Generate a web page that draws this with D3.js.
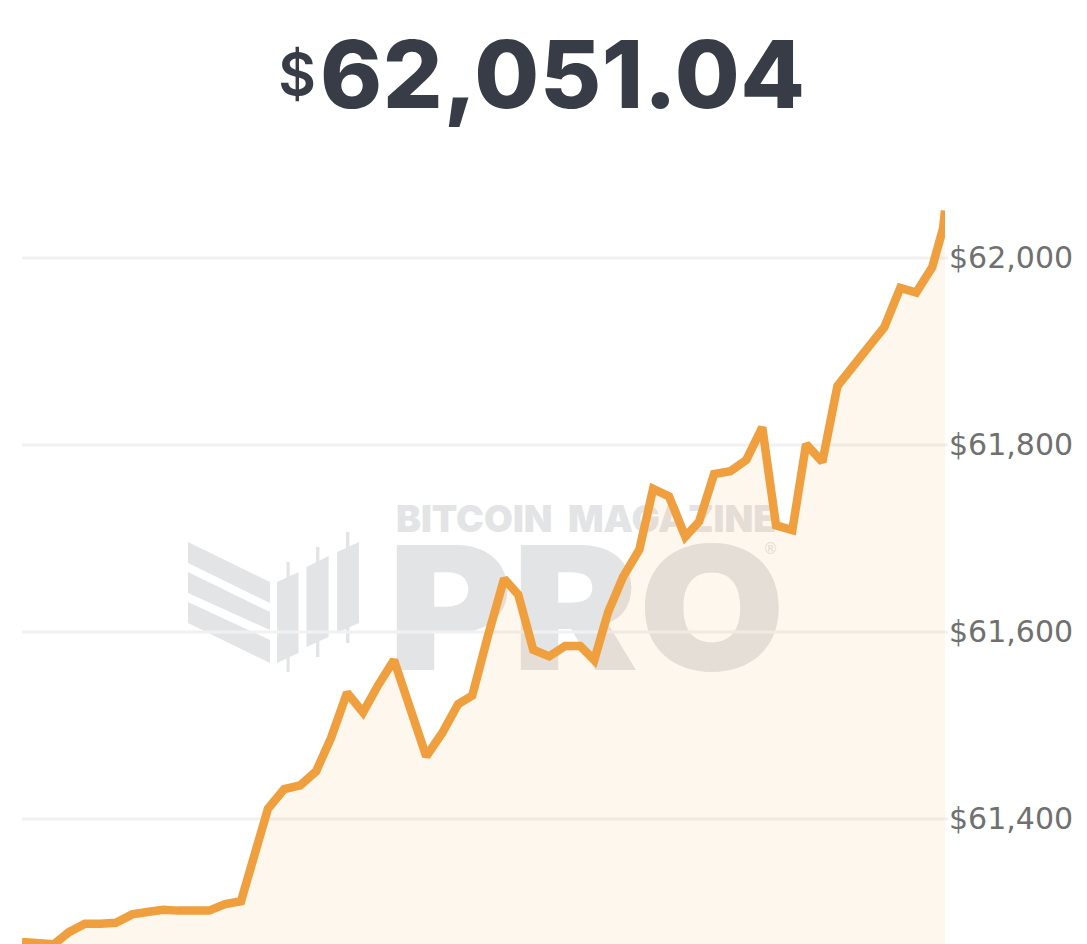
<!DOCTYPE html>
<html>
<head>
<meta charset="utf-8">
<script src="https://cdn.jsdelivr.net/npm/d3@7"></script>
<style>
html,body{margin:0;padding:0;background:#fff;overflow:hidden}
svg{display:block}
</style>
</head>
<body>
<svg id="chart" width="1087" height="944"></svg>
<script>
const minutes = [0,10.2,15,20.1,24.9,30,35.2,40,45.1,49.9,55,59.8,64.9,70,78.6,83.8,88.9,94,98.8,103.9,109,113.8,118.9,124,129.2,134.3,139.4,143.9,149,154.1,158.6,163.4,168.5,173.6,178.4,182.9,187.3,192.1,197.3,201.7,206.8,212,216.4,221.2,226.4,231.5,236.6,241,246.2,250.6,255.8,260.6,265.7,270.8,275.6,280.7,285.8,290.9,294.4,295];
const prices = [61268.5,61266,61279,61288,61288,61289,61298,61300.5,61303,61302,61302,61302,61309,61312,61411,61432,61436,61451,61487,61535,61514,61543,61570,61519,61467,61492,61523,61532,61597,61657,61640,61581,61574,61585,61585,61570,61621,61659,61688,61753,61745,61702,61718,61769,61772,61784,61819,61714,61709,61801,61782,61863,61884.5,61906,61926,61968,61963,61990,62032,62051.04];
const yTicks = [61400,61600,61800,62000];
const currentPrice = "62,051.04";
const currency = "$";
const brandLine = "BITCOIN MAGAZINE";
const brandWord = "PRO";

const svg = d3.select("#chart");
const plotLeft = 22, plotRight = 945, plotTop = 210.3, plotBottom = 944;
const x = d3.scaleLinear().domain([0,295]).range([plotLeft,plotRight]);
const y = d3.scaleLinear().domain([61266.3,62051.04]).range([plotBottom,plotTop]);
const points = minutes.map((m,i)=>({m,p:prices[i]}));

// Headline
const head = svg.append("text").attr("x",542).attr("y",108).attr("text-anchor","middle")
  .attr("fill","#373c46").attr("font-family","Inter, 'Liberation Sans', sans-serif");
head.append("tspan").attr("font-size",58).attr("font-weight",600).attr("dy",-13).text(currency);
head.append("tspan").attr("font-size",94).attr("font-weight",800).attr("dy",13).attr("dx",4).attr("letter-spacing",0.6).text(currentPrice);

// Watermark
const mark = svg.append("g").attr("fill","#e3e4e6");
const polys = [
 [[188,542],[270,582],[270,603],[188,563]],
 [[188,572],[270,612],[270,630],[188,593]],
 [[188,602],[270,640],[270,663],[188,623]],
 [[277,582],[298.5,572],[298.5,653],[277,663]],
 [[306.5,567],[328.6,556],[328.6,637],[306.5,647]],
 [[337,552],[359,542],[359,623],[337,633]],
 [[286.5,562],[289.7,562],[289.7,672],[286.5,672]],
 [[316,547],[319.4,547],[319.4,657],[316,657]],
 [[346,532],[349.5,532],[349.5,643],[346,643]]
];
polys.forEach(p=>mark.append("polygon").attr("points",p.join(" ")));
mark.append("text").attr("x",396).attr("y",532).attr("font-family","Inter, sans-serif").attr("font-weight",900)
  .attr("font-size",37).attr("word-spacing",8).attr("textLength",380).attr("lengthAdjust","spacingAndGlyphs").text(brandLine);
mark.append("text").attr("x",388).attr("y",670).attr("font-family","Inter, sans-serif").attr("font-weight",900)
  .attr("font-size",172).attr("textLength",397).attr("lengthAdjust","spacingAndGlyphs").text(brandWord);
mark.append("text").attr("x",763).attr("y",554).attr("font-family","'DejaVu Sans', sans-serif").attr("font-size",15).text("®");

// Grid
svg.append("g").selectAll("line").data(yTicks).join("line")
  .attr("x1",plotLeft).attr("x2",plotRight+3).attr("y1",d=>y(d)).attr("y2",d=>y(d))
  .attr("stroke","#f1f1f1").attr("stroke-width",3);

// Area + line
svg.append("clipPath").attr("id","plot").append("rect")
  .attr("x",plotLeft).attr("y",plotTop).attr("width",plotRight-plotLeft).attr("height",plotBottom-plotTop);
svg.append("path").datum(points).attr("clip-path","url(#plot)")
  .attr("d",d3.area().x(d=>x(d.m)).y0(plotBottom).y1(d=>y(d.p)))
  .attr("fill","rgba(247,147,26,0.08)");
svg.append("path").datum(points).attr("clip-path","url(#plot)")
  .attr("d",d3.line().x(d=>x(d.m)).y(d=>y(d.p)))
  .attr("fill","none").attr("stroke","#f09f3e").attr("stroke-width",8.5).attr("stroke-linejoin","miter").attr("stroke-miterlimit",2);

// Axis
const axis = svg.append("g").attr("transform",`translate(${plotRight},0)`)
  .call(d3.axisRight(y).tickValues(yTicks).tickSize(0).tickPadding(4).tickFormat(d=>"$"+d3.format(",")(d)));
axis.select(".domain").remove();
axis.selectAll("text").attr("font-family","'DejaVu Sans', sans-serif").attr("font-size",30).attr("fill","#707070");
</script>
</body>
</html>
